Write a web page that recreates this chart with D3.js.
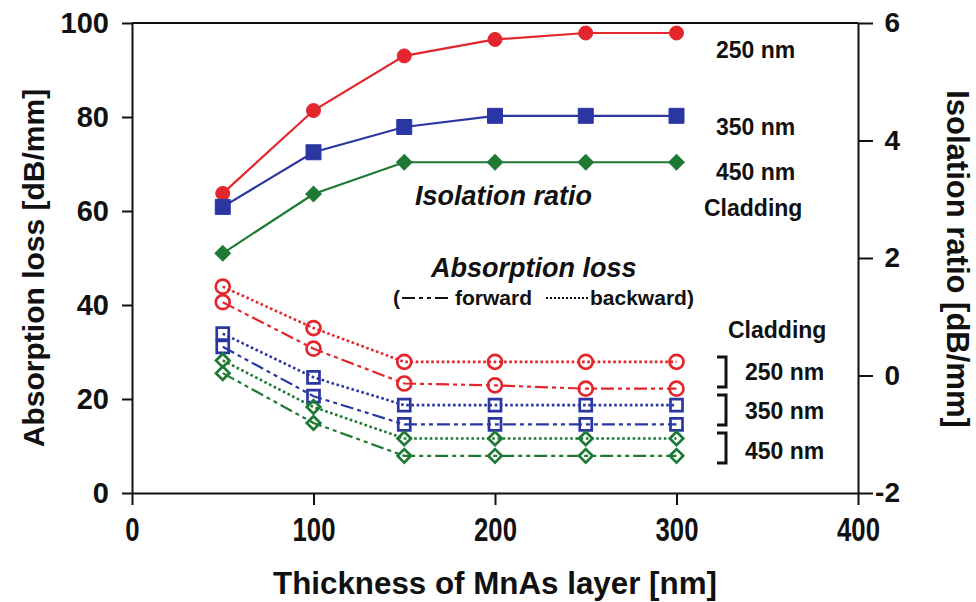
<!DOCTYPE html>
<html>
<head>
<meta charset="utf-8">
<script src="https://cdn.jsdelivr.net/npm/d3@7"></script>
<style>
  body { margin: 0; background: #fff; }
  svg text { font-family: "Liberation Sans", Arial, sans-serif; font-weight: bold; fill: #111; }
</style>
</head>
<body>
<div id="chart"></div>
<script>
// values
var thickness = [50, 100, 150, 200, 250, 300];
var xTicks = [0, 100, 200, 300, 400];
var leftTicks = [0, 20, 40, 60, 80, 100];
var rightTicks = [-2, 0, 2, 4, 6];
var claddings = ["250 nm", "350 nm", "450 nm"];

// isolation ratio [dB/mm], right axis
var isoRatio250 = [3.10, 4.51, 5.44, 5.72, 5.83, 5.83];
var isoRatio350 = [2.87, 3.80, 4.23, 4.42, 4.42, 4.42];
var isoRatio450 = [2.08, 3.09, 3.63, 3.63, 3.63, 3.63];

// absorption loss [dB/mm], left axis
var backward250 = [43.9, 35.1, 27.9, 27.9, 27.9, 27.9];
var forward250  = [40.6, 30.7, 23.3, 22.9, 22.2, 22.2];
var backward350 = [33.9, 24.6, 18.7, 18.7, 18.7, 18.7];
var forward350  = [31.1, 20.6, 14.6, 14.6, 14.6, 14.6];
var backward450 = [28.2, 18.3, 11.6, 11.6, 11.6, 11.6];
var forward450  = [25.5, 14.9, 7.9, 7.9, 7.9, 7.9];

var colors = ["#e3262b", "#2a37a3", "#1e7a33"];
var shapes = ["circle", "square", "diamond"];

const width = 976;
const height = 602;
const margin = { top: 23, right: 118, bottom: 109, left: 132 };
const w = width - margin.left - margin.right;
const h = height - margin.top - margin.bottom;

var svg = d3.select("#chart")
    .append("svg")
    .attr("width", width)
    .attr("height", height)
    .append("g")
    .attr("transform", "translate(" + margin.left + "," + margin.top + ")");

var x = d3.scaleLinear().domain([0, 400]).range([0, w]);
var yL = d3.scaleLinear().domain([0, 100]).range([h, 0]);
var yR = d3.scaleLinear().domain([-2, 6]).range([h, 0]);

var plain = function (d) { return String(d); };

// axes
var gx = svg.append("g")
    .attr("transform", "translate(0," + h + ")")
    .call(d3.axisBottom(x).tickValues(xTicks).tickFormat(plain).tickSize(12).tickSizeOuter(0).tickPadding(13));
gx.selectAll("text").style("font-size", "33px").attr("transform", "scale(0.78,1)");

var gl = svg.append("g")
    .call(d3.axisLeft(yL).tickValues(leftTicks).tickFormat(plain).tickSize(10).tickSizeOuter(0).tickPadding(13));
gl.selectAll("text").style("font-size", "29px");

var gr = svg.append("g")
    .attr("transform", "translate(" + w + ",0)")
    .call(d3.axisRight(yR).tickValues(rightTicks).tickFormat(plain).tickSize(15).tickSizeOuter(0));
gr.selectAll("text").style("font-size", "28px").attr("text-anchor", "end").attr("x", 42);

svg.selectAll(".domain, .tick line").attr("stroke", "#111").attr("stroke-width", 2);

svg.append("line")
    .attr("x1", 0).attr("x2", w).attr("y1", 0).attr("y2", 0)
    .attr("stroke", "#111").attr("stroke-width", 2);

// axis titles
svg.append("text")
    .attr("transform", "translate(-88,245) rotate(-90)")
    .attr("text-anchor", "middle")
    .style("font-size", "30px")
    .text("Absorption loss [dB/mm]");

svg.append("text")
    .attr("transform", "translate(" + (w + 89) + ",236) rotate(90)")
    .attr("text-anchor", "middle")
    .style("font-size", "31px")
    .text("Isolation ratio [dB/mm]");

svg.append("text")
    .attr("x", 363)
    .attr("y", h + 101)
    .attr("text-anchor", "middle")
    .attr("textLength", 444)
    .attr("lengthAdjust", "spacingAndGlyphs")
    .style("font-size", "31px")
    .text("Thickness of MnAs layer [nm]");

function pts(vals) {
    return vals.map(function (v, i) { return { t: thickness[i], v: v }; });
}

function symbolFor(shape, s) {
    if (shape == "circle") return d3.symbol().type(d3.symbolCircle).size(Math.PI * s * s / 4)();
    return d3.symbol().type(d3.symbolSquare).size(s * s)();
}

function drawSeries(vals, scale, color, shape, style) {
    var data = pts(vals);
    var line = d3.line()
        .x(function (d) { return x(d.t); })
        .y(function (d) { return scale(d.v); });
    var p = svg.append("path")
        .datum(data)
        .attr("fill", "none")
        .attr("stroke", color)
        .attr("d", line);
    if (style == "solid") p.attr("stroke-width", 2.2);
    if (style == "dot") p.attr("stroke-width", 2.6).attr("stroke-dasharray", "2.6,2.6");
    if (style == "dash") p.attr("stroke-width", 2.2).attr("stroke-dasharray", "13,4,4,4,4,4");

    var filled = style == "solid";
    var size = shape == "circle" ? 14 : (shape == "square" ? (filled ? 15 : 12) : (filled ? 11 : 9.5));
    svg.append("g").selectAll("path")
        .data(data)
        .enter().append("path")
        .attr("d", symbolFor(shape, size))
        .attr("transform", function (d) {
            return "translate(" + x(d.t) + "," + scale(d.v) + ")" + (shape == "diamond" ? " rotate(45)" : "");
        })
        .attr("fill", filled ? color : "none")
        .attr("stroke", color)
        .attr("stroke-width", filled ? 1 : 2.7);
}

var isoSets = [isoRatio250, isoRatio350, isoRatio450];
var backSets = [backward250, backward350, backward450];
var fwdSets = [forward250, forward350, forward450];

for (var i = 0; i < 3; i++) {
    drawSeries(backSets[i], yL, colors[i], shapes[i], "dot");
    drawSeries(fwdSets[i], yL, colors[i], shapes[i], "dash");
}
for (var i = 0; i < 3; i++) {
    drawSeries(isoSets[i], yR, colors[i], shapes[i], "solid");
}

// annotations (pixel offsets inside the plot area)
var isoLabelY = [35, 112, 157];
claddings.forEach(function (c, i) {
    svg.append("text").attr("x", 584).attr("y", isoLabelY[i]).style("font-size", "23px").text(c);
});
svg.append("text").attr("x", 572).attr("y", 193).style("font-size", "23px").text("Cladding");

svg.append("text").attr("x", 283).attr("y", 182)
    .style("font-size", "27px").style("font-style", "italic").text("Isolation ratio");
svg.append("text").attr("x", 299).attr("y", 254)
    .style("font-size", "27px").style("font-style", "italic").text("Absorption loss");

// line-style legend
var legY = 275;
svg.append("text").attr("x", 261).attr("y", legY + 7).style("font-size", "21px").text("(");
svg.append("line").attr("x1", 270).attr("x2", 318).attr("y1", legY).attr("y2", legY)
    .attr("stroke", "#111").attr("stroke-width", 2).attr("stroke-dasharray", "13,4,4,4,4,4");
svg.append("text").attr("x", 323).attr("y", legY + 7).style("font-size", "21px").text("forward");
svg.append("line").attr("x1", 414).attr("x2", 456).attr("y1", legY).attr("y2", legY)
    .attr("stroke", "#111").attr("stroke-width", 2).attr("stroke-dasharray", "2,2");
svg.append("text").attr("x", 458).attr("y", legY + 7).style("font-size", "21px").text("backward)");

svg.append("text").attr("x", 596).attr("y", 315).style("font-size", "23px").text("Cladding");

var bracketTop = [334, 372, 410];
var absLabelY = [357, 396, 436];
claddings.forEach(function (c, i) {
    svg.append("path")
        .attr("d", "M585," + bracketTop[i] + "H594V" + (bracketTop[i] + 30) + "H585")
        .attr("fill", "none").attr("stroke", "#111").attr("stroke-width", 3);
    svg.append("text").attr("x", 613).attr("y", absLabelY[i]).style("font-size", "23px").text(c);
});
</script>
</body>
</html>
